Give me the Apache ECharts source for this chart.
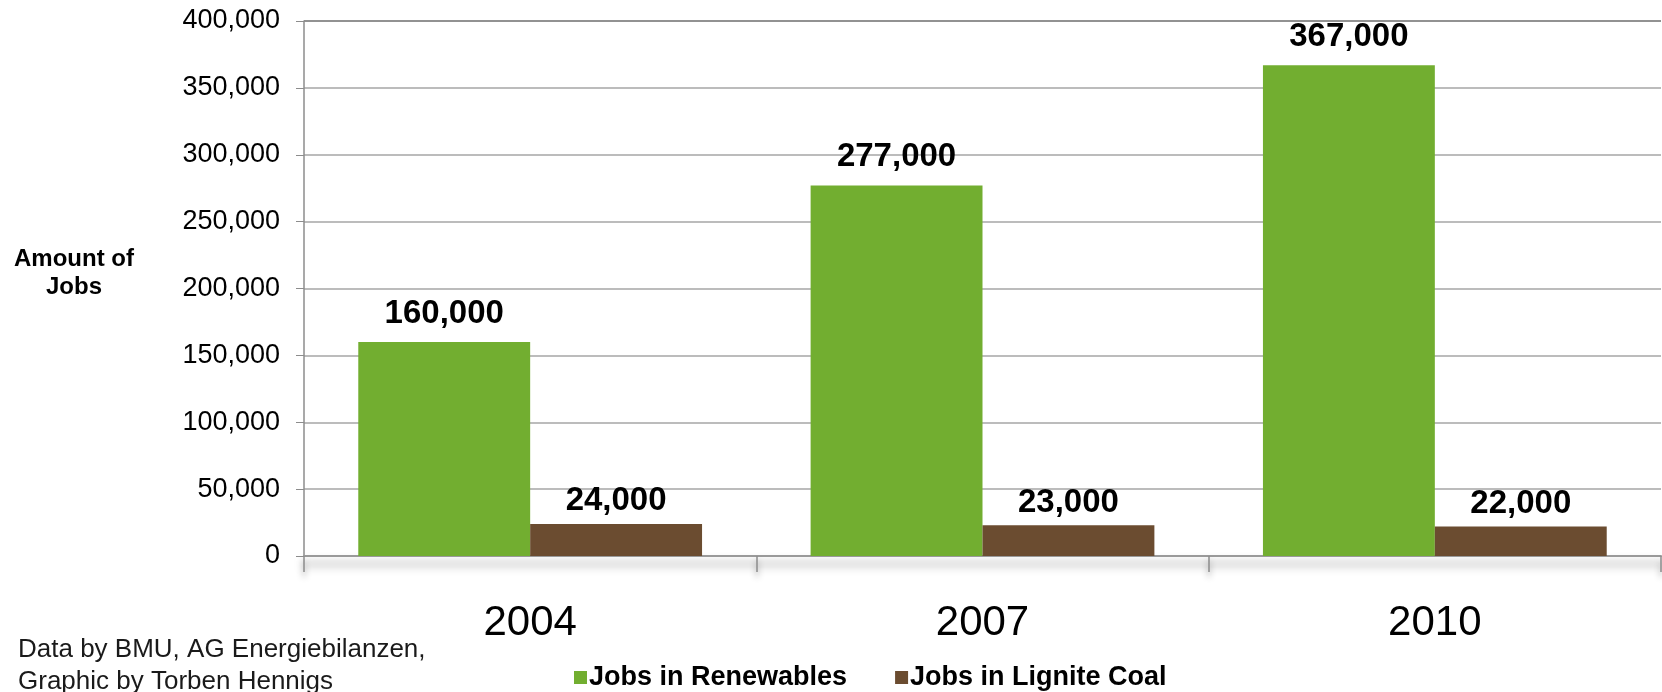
<!DOCTYPE html>
<html>
<head>
<meta charset="utf-8">
<script src="https://cdn.jsdelivr.net/npm/echarts@6/dist/echarts.min.js"></script>
<style>
  html, body { margin: 0; padding: 0; background: #ffffff; }
  #chart { width: 1662px; height: 692px; }
</style>
</head>
<body>
<div id="chart"></div>
<script>
// Jobs in Germany: renewables vs. lignite coal
const years = ['2004', '2007', '2010'];
const renewableJobs = [160000, 277000, 367000];
const ligniteJobs = [24000, 23000, 22000];
const yTicks = [0, 50000, 100000, 150000, 200000, 250000, 300000, 350000, 400000];

const FONT = '"Liberation Sans", Arial, Helvetica, sans-serif';
const fmt = v => v.toLocaleString('en-US');

// darker line on the top of the plot area
const gridColors = yTicks.map((t, i) => i === yTicks.length - 1 ? '#6e6e6e' : '#a6a6a6');

const chart = echarts.init(document.getElementById('chart'), null, { renderer: 'canvas' });

chart.setOption({
  animation: false,
  backgroundColor: '#ffffff',
  textStyle: { fontFamily: FONT },
  grid: { left: 304, right: 1, top: 21, bottom: 136, containLabel: false },
  title: {
    text: 'Data by BMU, AG Energiebilanzen,\nGraphic by Torben Hennigs',
    left: 18,
    top: 634,
    padding: 0,
    textStyle: {
      fontFamily: FONT, fontSize: 26, fontWeight: 'normal',
      color: '#1a1a1a', lineHeight: 32
    }
  },
  graphic: [{
    type: 'text',
    left: 12,
    top: 245,
    style: {
      text: 'Amount of\nJobs',
      fontFamily: FONT, fontSize: 24, fontWeight: 'bold',
      fill: '#000', textAlign: 'center', lineHeight: 28, width: 124
    }
  }],
  legend: {
    left: 569,
    top: 659,
    itemWidth: 13,
    itemHeight: 13,
    itemGap: 48,
    icon: 'rect',
    textStyle: { fontFamily: FONT, fontSize: 27, fontWeight: 'bold', color: '#000', padding: [0, 0, 0, -3] },
    data: ['Jobs in Renewables', 'Jobs in Lignite Coal']
  },
  xAxis: {
    type: 'category',
    data: years,
    axisLine: {
      show: true,
      lineStyle: {
        color: '#9a9a9a', width: 2,
        shadowColor: 'rgba(0,0,0,0.55)', shadowBlur: 10, shadowOffsetY: 8
      }
    },
    axisTick: {
      show: true, length: 16, alignWithLabel: false,
      lineStyle: {
        color: '#8c8c8c', width: 1.5,
        shadowColor: 'rgba(0,0,0,0.45)', shadowBlur: 6, shadowOffsetY: 5
      }
    },
    axisLabel: {
      margin: 46, fontFamily: FONT, fontSize: 42, color: '#000', lineHeight: 42
    },
    splitLine: { show: false }
  },
  yAxis: {
    type: 'value',
    min: 0,
    max: 400000,
    interval: 50000,
    axisLine: { show: true, lineStyle: { color: '#8c8c8c', width: 1.5 } },
    axisTick: { show: true, length: 8, lineStyle: { color: '#8c8c8c' } },
    axisLabel: {
      margin: 24, fontFamily: FONT, fontSize: 27, color: '#000',
      formatter: v => fmt(v)
    },
    splitLine: { show: true, lineStyle: { color: gridColors, width: 1.5 } }
  },
  series: [
    {
      name: 'Jobs in Renewables',
      type: 'bar',
      data: renewableJobs,
      barGap: '0%',
      barCategoryGap: '24%',
      itemStyle: { color: '#72ae30' },
      label: {
        show: true, position: 'top', distance: 12,
        fontFamily: FONT, fontSize: 33, fontWeight: 'bold', color: '#000',
        formatter: p => fmt(p.value)
      }
    },
    {
      name: 'Jobs in Lignite Coal',
      type: 'bar',
      data: ligniteJobs,
      barGap: '0%',
      barCategoryGap: '24%',
      itemStyle: { color: '#6b4c30' },
      label: {
        show: true, position: 'top', distance: 6,
        fontFamily: FONT, fontSize: 33, fontWeight: 'bold', color: '#000',
        formatter: p => fmt(p.value)
      }
    }
  ]
});
</script>
</body>
</html>
